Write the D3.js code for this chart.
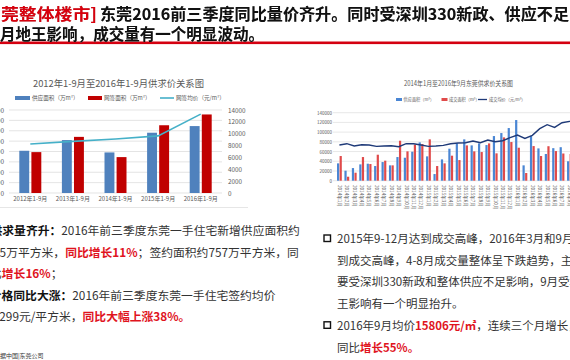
<!DOCTYPE html>
<html><head><meta charset="utf-8">
<script src="https://cdn.jsdelivr.net/npm/d3@7"></script>
<style>
html,body{margin:0;padding:0;background:#fff;overflow:hidden}
svg{display:block;font-family:"Noto Sans CJK SC","Noto Sans",sans-serif}
.ttl{filter:drop-shadow(0.8px 0.8px 0 #b0b0b0)}
</style></head><body>
<svg id="c" width="570" height="360"></svg>
<script>
// ---------- DATA ----------
const leftCategories = ["2012年1-9月","2013年1-9月","2014年1-9月","2015年1-9月","2016年1-9月"];
const leftSupply = [407, 510, 391, 581, 645];      // 供应面积（万m²）
const leftSigned = [394, 541, 346, 653, 757];      // 网签面积（万m²）
const leftPrice  = [8263, 8716, 9100, 9637, 13299]; // 网签均价（元/m²）
const leftTicksArea  = [0,100,200,300,400,500,600,700,800];
const leftTicksPrice = [0,2000,4000,6000,8000,10000,12000,14000];

const rightMonths = ["2014年1月","2014年2月","2014年3月","2014年4月","2014年5月","2014年6月","2014年7月","2014年8月","2014年9月","2014年10月","2014年11月","2014年12月",
  "2015年1月","2015年2月","2015年3月","2015年4月","2015年5月","2015年6月","2015年7月","2015年8月","2015年9月","2015年10月","2015年11月","2015年12月",
  "2016年1月","2016年2月","2016年3月","2016年4月","2016年5月","2016年6月","2016年7月","2016年8月","2016年9月"];
const rightSupply = [35700,20600,26000,33600,35000,30200,38400,31600,48700,47300,59700,78900,
  50100,13700,43900,65900,76800,85100,72700,76800,73400,91900,98100,108400,
  124900,31600,91900,66500,55000,67000,69000,40000,60000];   // 供应面积（m²）
const rightSigned = [50800,8200,16500,48700,34300,53500,41200,31600,82300,60400,74100,75500,
  85100,30200,35700,51500,42500,72700,60400,59000,76800,56300,89200,79600,
  67900,15800,71300,50800,71000,61000,56000,55000,70000];    // 成交面积（m²）
const rightPrice = [9441,9794,9176,9529,9441,9088,9176,9265,9000,9794,9794,9441,
  9088,9176,9353,9794,9971,10059,10500,10059,10765,10324,10588,11382,
  12088,11206,12000,13765,14824,14118,15353,15706,15806];      // 成交均价（元/m²）
const rightTicks = [0,20000,40000,60000,80000,100000,120000,140000];

// ---------- DRAW ----------
const svg = d3.select("#c");
svg.append("rect").attr("width",570).attr("height",360).attr("fill","#fff");
const fmt = d3.format("d");

// Title
function titleText(x, y, len, str, fill) {
  svg.append("text").attr("class","ttl").attr("x", x).attr("y", y).attr("font-size",16).attr("font-weight","bold")
    .attr("fill",fill).attr("textLength",len).attr("lengthAdjust","spacingAndGlyphs").text(str);
}
svg.append("rect").attr("x",0).attr("y",41.5).attr("width",570).attr("height",2.6).attr("fill","#d40010");
titleText(1, 20, 96, "莞整体楼市]", "#d9000d");
titleText(100, 20, 469, "东莞2016前三季度同比量价齐升。同时受深圳330新政、供应不足", "#111");
titleText(0, 40, 264, "月地王影响，成交量有一个明显波动。", "#111");

// ===== Left chart =====
const L = svg.append("g");
const x0 = d3.scaleBand().domain(leftCategories).range([9, 222]);
const yA = d3.scaleLinear().domain([0, 800]).range([193, 110]);
const yP = d3.scaleLinear().domain([0, 14000]).range([193, 110]);
const xs = d3.scaleBand().domain(["supply","signed"]).range([-11, 11]).paddingInner(0.18);

L.append("text").attr("x",118.5).attr("y",86.5).attr("text-anchor","middle").attr("font-size",9.5)
  .attr("fill","#595959").attr("textLength",171).attr("lengthAdjust","spacingAndGlyphs")
  .text("2012年1-9月至2016年1-9月供求价关系图");

// legend
const lg = L.append("g").attr("font-size",5.6).attr("fill","#595959");
lg.append("rect").attr("x",15).attr("y",96).attr("width",15).attr("height",4).attr("fill","#4f81bd");
lg.append("text").attr("x",32).attr("y",100).text("供应面积（万m²）");
lg.append("rect").attr("x",88).attr("y",96).attr("width",14).attr("height",4).attr("fill","#c00000");
lg.append("text").attr("x",104).attr("y",100).text("网签面积（万m²）");
lg.append("line").attr("x1",160).attr("x2",174).attr("y1",98).attr("y2",98).attr("stroke","#45b0c8").attr("stroke-width",1.6);
lg.append("text").attr("x",176).attr("y",100).text("网签均价（元/m²）");

// gridlines
L.selectAll(".gl").data(leftTicksArea).enter().append("line")
  .attr("x1",9).attr("x2",222).attr("y1",d=>yA(d)).attr("y2",d=>yA(d))
  .attr("stroke","#d9d9d9").attr("stroke-width",0.7);

// axes
const axL = L.append("g").attr("transform","translate(4,0)")
  .call(d3.axisLeft(yA).tickValues(leftTicksArea).tickFormat(fmt).tickSize(0).tickPadding(0));
axL.select(".domain").remove();
axL.selectAll("text").attr("font-size",6.5).attr("fill","#595959").attr("font-family","Noto Sans CJK SC");
const axR = L.append("g").attr("transform","translate(228,0)")
  .call(d3.axisRight(yP).tickValues(leftTicksPrice).tickFormat(fmt).tickSize(0).tickPadding(0));
axR.select(".domain").remove();
axR.selectAll("text").attr("font-size",6.3).attr("fill","#595959").attr("font-family","Noto Sans CJK SC");
const axB = L.append("g").attr("transform","translate(0,193)")
  .call(d3.axisBottom(x0).tickSize(0).tickPadding(4));
axB.select(".domain").remove();
axB.selectAll("text").attr("font-size",6).attr("fill","#595959").attr("font-family","Noto Sans CJK SC");

// bars
const lgroups = L.selectAll(".lg").data(leftCategories).enter().append("g")
  .attr("transform", c => `translate(${x0(c)+x0.bandwidth()/2},0)`);
lgroups.append("rect").attr("x",xs("supply")).attr("width",xs.bandwidth())
  .attr("y",(c,i)=>yA(leftSupply[i])).attr("height",(c,i)=>yA(0)-yA(leftSupply[i])).attr("fill","#4f81bd");
lgroups.append("rect").attr("x",xs("signed")).attr("width",xs.bandwidth())
  .attr("y",(c,i)=>yA(leftSigned[i])).attr("height",(c,i)=>yA(0)-yA(leftSigned[i])).attr("fill","#c00000");
L.append("path").datum(leftPrice)
  .attr("d", d3.line().x((d,i)=>x0(leftCategories[i])+x0.bandwidth()/2).y(d=>yP(d)))
  .attr("fill","none").attr("stroke","#45b0c8").attr("stroke-width",1.6);
L.append("line").attr("x1",0).attr("x2",248).attr("y1",207.5).attr("y2",207.5).attr("stroke","#e0e0e0").attr("stroke-width",0.8);

// ===== Right chart =====
const R = svg.append("g");
const xm = d3.scaleBand().domain(rightMonths).range([335.7, 335.7 + 33*7.42]);
const yR = d3.scaleLinear().domain([0, 140000]).range([180.7, 112.7]);
const yRP = d3.scaleLinear().domain([0, 18000]).range([180.7, 112.7]);
const xr = d3.scaleBand().domain(["supply","signed"]).range([-2.4, 2.4]).paddingInner(0.15);

R.append("text").attr("x",458.5).attr("y",85.5).attr("text-anchor","middle").attr("font-size",7)
  .attr("fill","#595959").attr("textLength",109).attr("lengthAdjust","spacingAndGlyphs")
  .text("2014年1月至2016年9月东莞供求价关系图");
const rl = R.append("g").attr("font-size",4.2).attr("fill","#595959");
rl.append("rect").attr("x",396).attr("y",98).attr("width",6).attr("height",3).attr("fill","#4a86d4");
rl.append("text").attr("x",403.5).attr("y",101).text("供应面积（m²）");
rl.append("rect").attr("x",441.5).attr("y",98).attr("width",6).attr("height",3).attr("fill","#e04a4a");
rl.append("text").attr("x",449).attr("y",101).text("成交面积（m²）");
rl.append("line").attr("x1",478).attr("x2",487).attr("y1",99.5).attr("y2",99.5).attr("stroke","#1f3a78").attr("stroke-width",1.3);
rl.append("text").attr("x",489).attr("y",101).text("成交均价（元/m²）");

R.selectAll(".gr").data(rightTicks).enter().append("line")
  .attr("x1",333).attr("x2",590).attr("y1",d=>yR(d)).attr("y2",d=>yR(d))
  .attr("stroke","#d9d9d9").attr("stroke-width",0.6);
const ayR = R.append("g").attr("transform","translate(332,0)")
  .call(d3.axisLeft(yR).tickValues(rightTicks).tickFormat(fmt).tickSize(0).tickPadding(0));
ayR.select(".domain").remove();
ayR.selectAll("text").attr("font-size",4.5).attr("fill","#595959").attr("font-family","Noto Sans CJK SC");
const axM = R.append("g").attr("transform","translate(0,181)")
  .call(d3.axisBottom(xm).tickSize(0).tickPadding(0));
axM.select(".domain").remove();
axM.selectAll("text").attr("font-size",4.6).attr("fill","#595959").attr("font-family","Noto Sans CJK SC")
  .attr("transform","rotate(90)").attr("x",4).attr("y",0).attr("dy","0.35em").style("text-anchor","start");

const rgroups = R.selectAll(".rg").data(rightMonths).enter().append("g")
  .attr("transform", m => `translate(${xm(m)+xm.bandwidth()/2},0)`);
rgroups.append("rect").attr("x",xr("supply")).attr("width",xr.bandwidth())
  .attr("y",(m,i)=>yR(rightSupply[i])).attr("height",(m,i)=>yR(0)-yR(rightSupply[i])).attr("fill","#4a86d4");
rgroups.append("rect").attr("x",xr("signed")).attr("width",xr.bandwidth())
  .attr("y",(m,i)=>yR(rightSigned[i])).attr("height",(m,i)=>yR(0)-yR(rightSigned[i])).attr("fill","#e04a4a");
R.append("path").datum(rightPrice)
  .attr("d", d3.line().x((d,i)=>xm(rightMonths[i])+xm.bandwidth()/2).y(d=>yRP(d)))
  .attr("fill","none").attr("stroke","#1f3a78").attr("stroke-width",1.4);

// ===== Left text block =====
const T = svg.append("g").attr("font-size",11.8).attr("fill","#333");
function line(g, x, y, parts) {
  const t = g.append("text").attr("x",x).attr("y",y);
  parts.forEach(p => {
    const s = t.append("tspan").text(p[0]);
    if (p[1] === "b") s.attr("font-weight","bold").attr("fill","#111");
    if (p[1] === "r") s.attr("font-weight","bold").attr("fill","#e0141e");
  });
}
line(T, -9.5, 235, [["供求量齐升：","b"],["2016年前三季度东莞一手住宅新增供应面积约"]]);
line(T, -13.5, 256.5, [["645万平方米，"],["同比增长11%","r"],["；签约面积约757万平方米，同"]]);
line(T, -10, 278, [["比",""],["增长16%","r"],["；"]]);
line(T, -10.3, 299.5, [["价格同比大涨：","b"],["2016年前三季度东莞一手住宅签约均价"]]);
line(T, -13.8, 321, [["13299元/平方米，"],["同比大幅上涨38%。","r"]]);
svg.append("text").attr("x",0).attr("y",358).attr("font-size",6).attr("fill","#333").text("据中国|东莞公司");

// ===== Right text block =====
const T2 = svg.append("g").attr("font-size",11.5).attr("fill","#333");
T2.append("rect").attr("x",324).attr("y",235).attr("width",6.5).attr("height",6.5).attr("fill","none").attr("stroke","#111").attr("stroke-width",1.4);
T2.append("rect").attr("x",324).attr("y",321.8).attr("width",6.5).attr("height",6.5).attr("fill","none").attr("stroke","#111").attr("stroke-width",1.4);
line(T2, 337, 243, [["2015年9-12月达到成交高峰，2016年3月和9月再次达"]]);
line(T2, 337, 264.5, [["到成交高峰，4-8月成交量整体呈下跌趋势，主"]]);
line(T2, 337, 286, [["要受深圳330新政和整体供应不足影响，9月受地"]]);
line(T2, 337, 307.5, [["王影响有一个明显抬升。"]]);
line(T2, 337, 330, [["2016年9月均价"],["15806元/㎡","r"],["，连续三个月增长，"]]);
line(T2, 337, 351.5, [["同比"],["增长55%。","r"]]);
</script>
</body></html>
